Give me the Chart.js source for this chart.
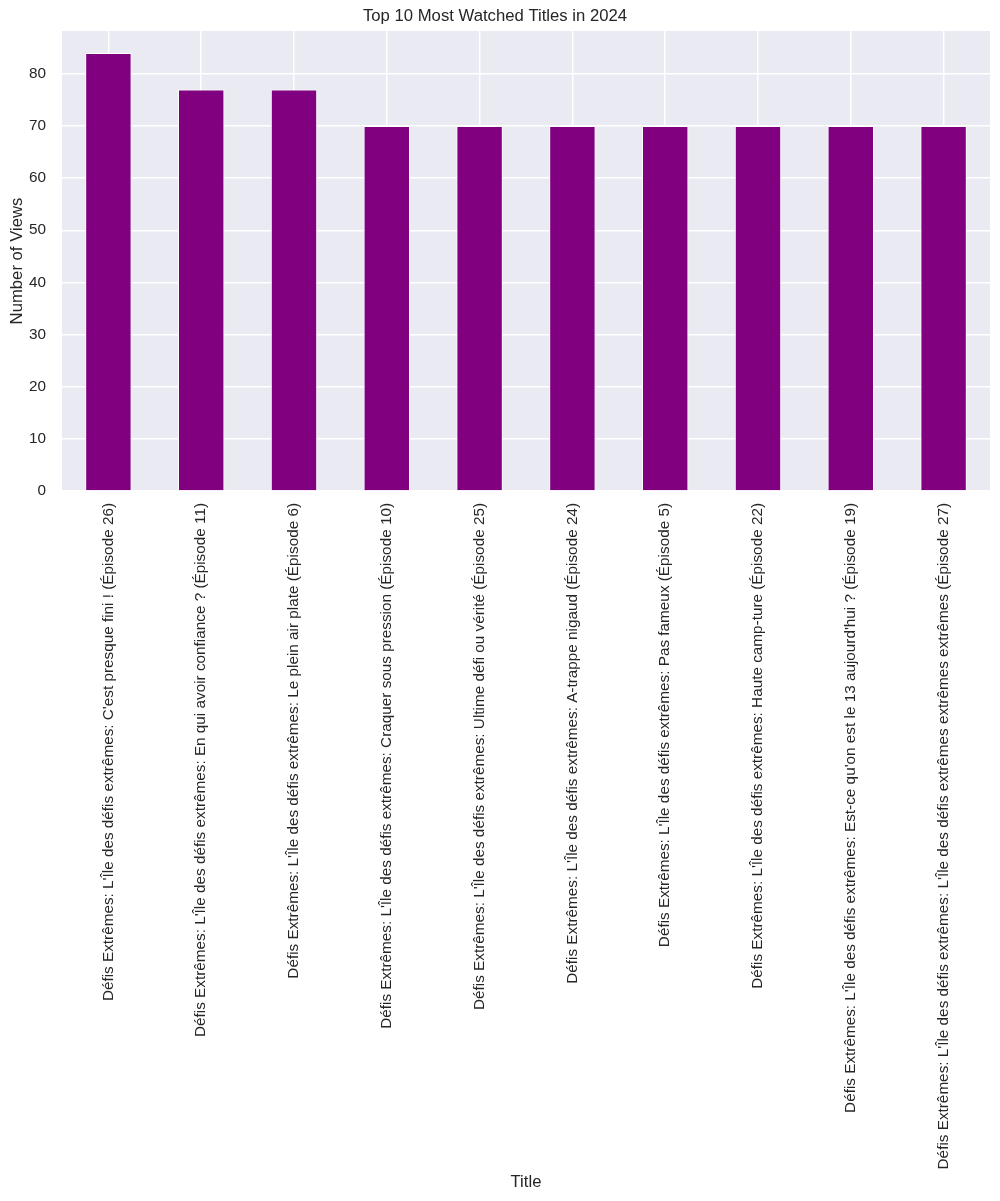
<!DOCTYPE html>
<html>
<head>
<meta charset="utf-8">
<script src="https://cdn.jsdelivr.net/npm/chart.js@4.4.1/dist/chart.umd.min.js"></script>
<style>
  html, body { margin: 0; padding: 0; background: #ffffff; }
  #wrap { width: 1000px; height: 1201px; position: relative; }
</style>
</head>
<body>
<div id="wrap"><canvas id="chartTopTitles"></canvas></div>
<script>
const titles = [
  "Défis Extrêmes: L'Île des défis extrêmes: C'est presque fini ! (Épisode 26)",
  "Défis Extrêmes: L'Île des défis extrêmes: En qui avoir confiance ? (Épisode 11)",
  "Défis Extrêmes: L'Île des défis extrêmes: Le plein air plate (Épisode 6)",
  "Défis Extrêmes: L'Île des défis extrêmes: Craquer sous pression (Épisode 10)",
  "Défis Extrêmes: L'Île des défis extrêmes: Ultime défi ou vérité (Épisode 25)",
  "Défis Extrêmes: L'Île des défis extrêmes: A-trappe nigaud (Épisode 24)",
  "Défis Extrêmes: L'Île des défis extrêmes: Pas fameux (Épisode 5)",
  "Défis Extrêmes: L'Île des défis extrêmes: Haute camp-ture (Épisode 22)",
  "Défis Extrêmes: L'Île des défis extrêmes: Est-ce qu'on est le 13 aujourd'hui ? (Épisode 19)",
  "Défis Extrêmes: L'Île des défis extrêmes: L'Île des défis extrêmes extrêmes extrêmes (Épisode 27)"
];
const views = [84, 77, 77, 70, 70, 70, 70, 70, 70, 70];
const yTicks = [0, 10, 20, 30, 40, 50, 60, 70, 80];

const fontFamily = "Arial, 'Liberation Sans', sans-serif";
const textColor = "#262626";

// seaborn-like grey panel behind the bars
const plotBackground = {
  id: "plotBackground",
  beforeDraw(chart) {
    const { ctx, chartArea } = chart;
    ctx.save();
    ctx.fillStyle = "#eaeaf2";
    ctx.fillRect(chartArea.left, chartArea.top, chartArea.right - chartArea.left, chartArea.bottom - chartArea.top);
    ctx.restore();
  }
};

new Chart(document.getElementById("chartTopTitles"), {
  type: "bar",
  data: {
    labels: titles,
    datasets: [{
      label: "Views",
      data: views,
      backgroundColor: "#800080",
      borderColor: "#ffffff",
      borderWidth: 1,
      barPercentage: 0.5,
      categoryPercentage: 1.0
    }]
  },
  options: {
    responsive: true,
    maintainAspectRatio: false,
    animation: false,
    layout: { padding: { left: 0, right: 10, top: 0, bottom: 0 } },
    plugins: {
      legend: { display: false },
      tooltip: { enabled: false },
      title: {
        display: true,
        text: "Top 10 Most Watched Titles in 2024",
        color: textColor,
        font: { family: fontFamily, size: 16.7, weight: "normal" },
        padding: { top: 6, bottom: 5 }
      }
    },
    scales: {
      x: {
        offset: true,
        afterFit(axis) {
          axis.height = 710;
        },
        grid: { color: "#ffffff", lineWidth: 1.5, offset: false, drawTicks: false },
        border: { display: false },
        ticks: {
          autoSkip: false,
          maxRotation: 90,
          minRotation: 90,
          padding: 12,
          color: textColor,
          font: { family: fontFamily, size: 15.3 }
        },
        title: {
          display: true,
          text: "Title",
          color: textColor,
          font: { family: fontFamily, size: 16.7 },
          padding: { top: 4, bottom: 9 }
        }
      },
      y: {
        min: 0,
        max: 88.2,
        afterBuildTicks(axis) {
          axis.ticks = yTicks.map((v) => ({ value: v }));
        },
        afterFit(axis) {
          axis.width = 62;
        },
        grid: { color: "#ffffff", lineWidth: 1.5, drawTicks: false },
        border: { display: false },
        ticks: {
          padding: 16,
          color: textColor,
          font: { family: fontFamily, size: 15.3 }
        },
        title: {
          display: true,
          text: "Number of Views",
          color: textColor,
          font: { family: fontFamily, size: 16.7 },
          padding: { top: 7, bottom: 0 }
        }
      }
    }
  },
  plugins: [plotBackground]
});
</script>
</body>
</html>
